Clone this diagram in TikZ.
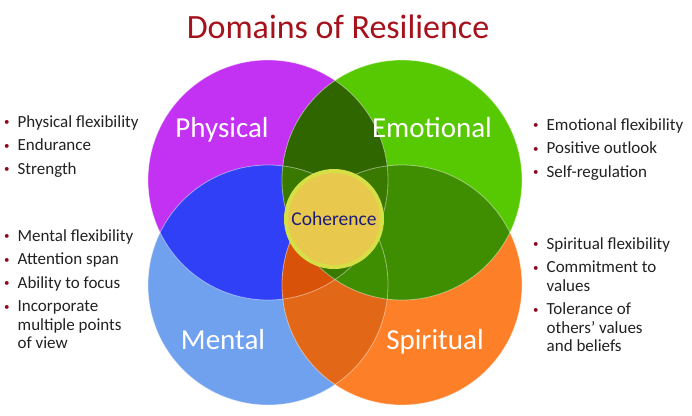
\documentclass[tikz,border=0pt]{standalone}
\usepackage{fontspec}
\setmainfont{Carlito}
\usepackage{xcolor}
\usepackage{tikz}
\usetikzlibrary{positioning}

\definecolor{physcol}{HTML}{C331F2}
\definecolor{emocol}{HTML}{57C902}
\definecolor{mentcol}{HTML}{6FA1EE}
\definecolor{spircol}{HTML}{FD7F28}
\definecolor{pmcol}{HTML}{2F40F6}
\definecolor{mscol}{HTML}{E26818}
\definecolor{pmscol}{HTML}{D8520A}
\definecolor{escol}{HTML}{3F8D00}
\definecolor{pecol}{HTML}{2F6600}
\definecolor{pemcol}{HTML}{3A7900}
\definecolor{cohcol}{HTML}{E8C94E}
\definecolor{ringcol}{HTML}{D6DF46}
\definecolor{navycol}{HTML}{1C1C78}
\definecolor{titlecol}{HTML}{A5121C}
\definecolor{bulcol}{HTML}{8B0A1E}
\definecolor{listcol}{HTML}{222222}

\newcommand{\bul}{\textcolor{bulcol}{\raisebox{1.5pt}{\fontsize{11}{11}\selectfont\textbullet}}}

\begin{document}
\begin{tikzpicture}[x=1pt, y=-1pt,
    domainlabel/.style={anchor=base, text=white, font=\fontsize{29}{32}\selectfont},
    coh/.style={circle, fill=cohcol, draw=ringcol, line width=4pt, minimum size=96pt,
                inner sep=0pt, text=navycol, font=\fontsize{19.5}{22}\selectfont},
    list/.style={anchor=base west, inner sep=0pt, text=listcol, font=\fontsize{17}{18.5}\selectfont},
    rim/.style={draw=white, draw opacity=0.45, line width=0.8pt}
]
\useasboundingbox[fill=white] (0,0) rectangle (692,415);

% Title
\node[anchor=base, text=titlecol, font=\fontsize{34}{38}\selectfont] (title) at (338,38) {Domains of Resilience};

% Circles
\coordinate (P) at (268,180);
\coordinate (E) at (402,180);
\coordinate (M) at (268,285);
\coordinate (S) at (402,285);

\fill[physcol] (P) circle (120pt);
\fill[mentcol] (M) circle (120pt);
\fill[spircol] (S) circle (120pt);
\fill[emocol] (E) circle (120pt);

% Overlaps
\begin{scope}
  \clip (P) circle (120pt);
  \fill[pmcol] (M) circle (120pt);
\end{scope}
\begin{scope}
  \clip (M) circle (120pt);
  \fill[mscol] (S) circle (120pt);
  \clip (P) circle (120pt);
  \fill[pmscol] (S) circle (120pt);
\end{scope}
\begin{scope}
  \clip (E) circle (120pt);
  \fill[escol] (S) circle (120pt);
\end{scope}
\begin{scope}
  \clip (P) circle (120pt);
  \fill[pecol] (E) circle (120pt);
  \clip (E) circle (120pt);
  \fill[pemcol] (M) circle (120pt);
  \fill[pemcol] (S) circle (120pt);
\end{scope}

% Rims
\draw[rim] (P) circle (120pt);
\draw[rim] (E) circle (120pt);
\draw[rim] (M) circle (120pt);
\draw[rim] (S) circle (120pt);

% Labels
\node[domainlabel] (physical) at (222,137) {Physical};
\node[domainlabel] (emotional) at (432,137) {Emotional};
\node[domainlabel] (mental) at (223,349) {Mental};
\node[domainlabel] (spiritual) at (435,349) {Spiritual};
\node[coh] (coherence) at (334,219) {Coherence};

% Lists
\node[list] (physlist) at (4,127) {\begin{tabular}[t]{@{}l@{\hspace{8pt}}l@{}}
  \bul & Physical flexibility\\[5pt]
  \bul & Endurance\\[5pt]
  \bul & Strength
\end{tabular}};
\node[list] (mentlist) at (4,241) {\begin{tabular}[t]{@{}l@{\hspace{8pt}}l@{}}
  \bul & Mental flexibility\\[5pt]
  \bul & Attention span\\[5pt]
  \bul & Ability to focus\\[5pt]
  \bul & Incorporate\\
       & multiple points\\
       & of view
\end{tabular}};
\node[list] (emolist) at (533,130) {\begin{tabular}[t]{@{}l@{\hspace{8pt}}l@{}}
  \bul & Emotional flexibility\\[5pt]
  \bul & Positive outlook\\[5pt]
  \bul & Self-regulation
\end{tabular}};
\node[list] (spirlist) at (533,249) {\begin{tabular}[t]{@{}l@{\hspace{8pt}}l@{}}
  \bul & Spiritual flexibility\\[5pt]
  \bul & Commitment to\\
       & values\\[5pt]
  \bul & Tolerance of\\
       & others' values\\
       & and beliefs
\end{tabular}};

\end{tikzpicture}
\end{document}
